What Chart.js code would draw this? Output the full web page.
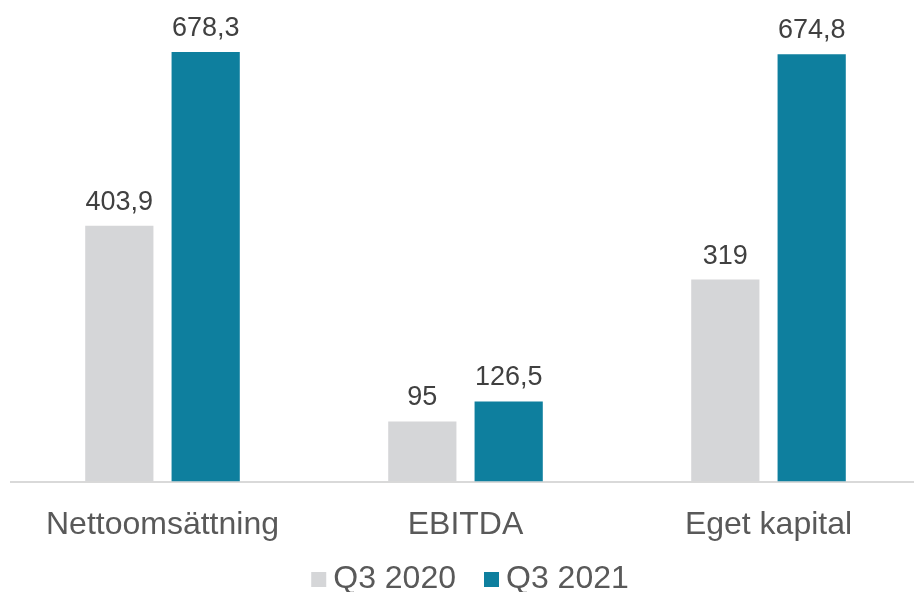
<!DOCTYPE html>
<html>
<head>
<meta charset="utf-8">
<script src="https://cdn.jsdelivr.net/npm/chart.js@4.4.0/dist/chart.umd.min.js"></script>
<style>
  html, body { margin: 0; padding: 0; background: #fff; overflow: hidden; }
  #wrap { width: 920px; height: 592px; }
</style>
</head>
<body>
<div id="wrap"><canvas id="chart"></canvas></div>
<script>
// categories and series
const categories = ['Nettoomsättning', 'EBITDA', 'Eget kapital'];
const seriesNames = ['Q3 2020', 'Q3 2021'];
const q3_2020 = [403.9, 95, 319];
const q3_2021 = [678.3, 126.5, 674.8];

const FONT = '"Liberation Sans", Arial, sans-serif';
const fmt = v => String(v).replace('.', ',');

// draws the value above each bar
const valueLabels = {
    id: 'valueLabels',
    afterDatasetsDraw: (chart) => {
        const ctx = chart.ctx;
        ctx.save();
        ctx.font = '27px ' + FONT;
        ctx.fillStyle = '#404040';
        ctx.textAlign = 'center';
        ctx.textBaseline = 'bottom';
        chart.data.datasets.forEach((ds, i) => {
            chart.getDatasetMeta(i).data.forEach((bar, j) => {
                ctx.fillText(fmt(ds.data[j]), bar.x, bar.y - 10);
            });
        });
        ctx.restore();
    }
};

// legend at the bottom, drawn by hand to get the tight box/text spacing
const bottomLegend = {
    id: 'bottomLegend',
    afterDraw: (chart) => {
        const ctx = chart.ctx;
        ctx.save();
        ctx.font = '32px ' + FONT;
        ctx.textBaseline = 'alphabetic';
        const box = 15, gapText = 7, gapItem = 28, y = 588;
        const items = chart.data.datasets.map(ds => ({ text: ds.label, color: ds.backgroundColor, w: ctx.measureText(ds.label).width }));
        const total = items.reduce((s, it) => s + box + gapText + it.w, 0) + gapItem * (items.length - 1);
        let x = (914 - total) / 2 + 13;
        items.forEach(it => {
            ctx.fillStyle = it.color;
            ctx.fillRect(x, y - 16, box, box);
            x += box + gapText;
            ctx.fillStyle = '#595959';
            ctx.fillText(it.text, x, y);
            x += it.w + gapItem;
        });
        ctx.restore();
    }
};

new Chart(document.getElementById('chart'), {
    type: 'bar',
    data: {
        labels: categories,
        datasets: [
            { label: seriesNames[0], data: q3_2020, backgroundColor: '#d5d6d8' },
            { label: seriesNames[1], data: q3_2021, backgroundColor: '#0e7f9e' }
        ]
    },
    options: {
        responsive: true, maintainAspectRatio: false, animation: false,
        layout: { padding: { left: 11, right: 0, top: 13, bottom: 32 } },
        datasets: { bar: { categoryPercentage: 0.57, barPercentage: 0.79 } },
        plugins: {
            legend: { display: false },
            tooltip: { enabled: false }
        },
        scales: {
            x: {
                grid: { display: false },
                border: { color: '#d9d9d9', width: 2 },
                ticks: { color: '#595959', padding: 16, font: { family: FONT, size: 32 } }
            },
            y: { display: false, min: 0, max: 740 }
        }
    },
    plugins: [valueLabels, bottomLegend]
});
</script>
</body>
</html>
